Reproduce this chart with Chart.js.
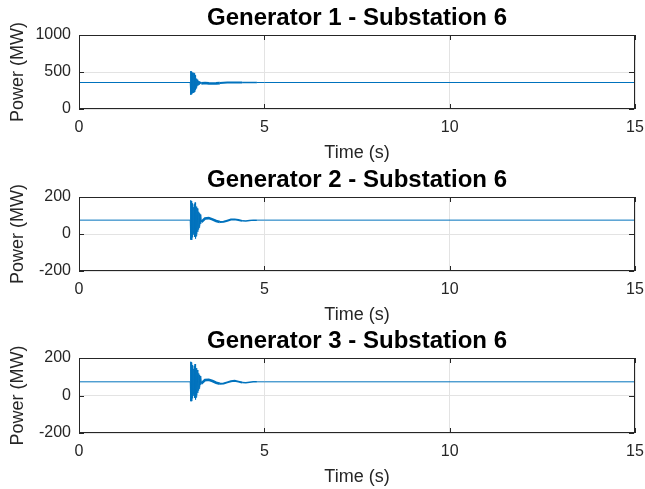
<!DOCTYPE html>
<html>
<head>
<meta charset="utf-8">
<script src="https://cdn.jsdelivr.net/npm/chart.js@4.4.0/dist/chart.umd.min.js"></script>
<style>
  html, body { margin: 0; padding: 0; background: #fff; }
  #wrap { position: relative; width: 645px; height: 489px; }
  .panel { position: absolute; left: 0; width: 645px; }
</style>
</head>
<body>
<div id="wrap">
  <div class="panel" style="top:0;height:165px"><canvas id="gen1"></canvas></div>
  <div class="panel" style="top:162px;height:165px"><canvas id="gen2"></canvas></div>
  <div class="panel" style="top:323px;height:166px"><canvas id="gen3"></canvas></div>
</div>
<script>
// time axis (s) - dense around the fault at 3 s
const timeS = [0,
  3.00, 3.01, 3.02, 3.03, 3.04, 3.05, 3.06, 3.07, 3.08, 3.09,
  3.10, 3.11, 3.12, 3.13, 3.14, 3.15, 3.16, 3.17, 3.18, 3.19,
  3.20, 3.21, 3.22, 3.23, 3.24, 3.25, 3.26, 3.27, 3.28, 3.29, 3.30,
  3.40, 3.50, 3.60, 3.70, 3.80, 3.90, 4.00, 4.10, 4.20, 4.30, 4.40, 4.50, 4.60, 4.70, 4.80,
  5.00, 15];

// power (MW)
const gen1MW = [358,
  358, 512, 195, 505, 200, 490, 215, 470, 240, 490,
  220, 480, 230, 455, 255, 430, 280, 410, 300, 395,
  315, 385, 325, 378, 332, 372, 338, 366, 342, 362, 346,
  352, 346, 344, 346, 350, 354, 357, 358, 358, 358, 358, 358, 358, 358, 358,
  358, 358];

const gen2MW = [75,
  75, 182, -30, 178, -32, 165, -18, 150, -2, 145,
  5, 160, -15, 170, -25, 160, -12, 148, 0, 138,
  12, 128, 25, 120, 35, 112, 45, 105, 55, 98, 65,
  84, 86, 79, 70, 65, 66, 72, 78, 79, 76, 71, 70, 73, 75, 75,
  75, 75];

const gen3MW = [73,
  73, 180, -30, 176, -30, 162, -15, 148, 0, 142,
  8, 158, -12, 168, -22, 158, -10, 146, 2, 136,
  14, 126, 27, 118, 37, 110, 47, 103, 57, 96, 64,
  82, 84, 77, 68, 63, 64, 70, 76, 78, 74, 69, 68, 71, 73, 73,
  73, 73];

const titles = ['Generator 1 - Substation 6', 'Generator 2 - Substation 6', 'Generator 3 - Substation 6'];
const yRanges = [[0, 1000, 500], [-200, 200, 200], [-200, 200, 200]];
const series = [gen1MW, gen2MW, gen3MW];

const FONT = "'Liberation Sans', Arial, Helvetica, sans-serif";
const LINE = '#0072BD';
const AXIS = '#262626';

// MATLAB-style box with inward tick marks
const boxPlugin = {
  id: 'matlabBox',
  afterDatasetsDraw(chart) {
    const {ctx, chartArea: a, scales} = chart;
    ctx.save();
    ctx.strokeStyle = AXIS;
    ctx.lineWidth = 1;
    ctx.strokeRect(Math.round(a.left) + 0.5, Math.round(a.top) + 0.5,
                   Math.round(a.right - a.left) - 1, Math.round(a.bottom - a.top) - 1);
    const len = 5;
    ctx.beginPath();
    scales.x.ticks.forEach(t => {
      const px = Math.round(scales.x.getPixelForValue(t.value)) + 0.5;
      ctx.moveTo(px, a.bottom); ctx.lineTo(px, a.bottom - len);
      ctx.moveTo(px, a.top); ctx.lineTo(px, a.top + len);
    });
    scales.y.ticks.forEach(t => {
      const py = Math.round(scales.y.getPixelForValue(t.value)) + 0.5;
      ctx.moveTo(a.left, py); ctx.lineTo(a.left + len, py);
      ctx.moveTo(a.right - 1, py); ctx.lineTo(a.right - 1 - len, py);
    });
    ctx.stroke();
    ctx.restore();
  }
};

function makeChart(id, idx) {
  const el = document.getElementById(id);
  return new Chart(el, {
    type: 'line',
    data: {
      datasets: [{
        data: timeS.map((t, i) => ({x: t, y: series[idx][i]})),
        borderColor: LINE,
        borderWidth: 1,
        pointRadius: 0,
        tension: 0,
        segment: {
          // residual ripple after the main burst makes the trace look thicker
          borderWidth: c => {
            const x = c.p0.parsed.x;
            if (x >= 3.3 && x < 3.8) return 2.6;
            if (x >= 3.8 && x < 4.4) return 2;
            if (x >= 4.4 && x < 4.8) return 1.5;
            return 1;
          }
        }
      }]
    },
    options: {
      responsive: true,
      maintainAspectRatio: false,
      animation: false,
      layout: { padding: { left: 0, right: 10, top: 0, bottom: 0 } },
      plugins: {
        legend: { display: false },
        tooltip: { enabled: false },
        title: {
          display: true,
          fullSize: false,
          text: titles[idx],
          color: '#000',
          font: { family: FONT, size: 24, weight: 'bold' },
          padding: { top: 4, bottom: 2.2 }
        }
      },
      scales: {
        x: {
          type: 'linear',
          min: 0, max: 15,
          ticks: { stepSize: 5, color: AXIS, padding: 9, font: { family: FONT, size: 16 } },
          grid: { color: '#e3e3e3', drawTicks: false },
          border: { display: false },
          title: { display: true, text: 'Time (s)', color: AXIS,
                   font: { family: FONT, size: 18 }, padding: { top: 0, bottom: 1.2 } },
          afterFit: s => { s.height = 56; s.paddingLeft = 0; s.paddingRight = 0; }
        },
        y: {
          min: yRanges[idx][0], max: yRanges[idx][1],
          ticks: { stepSize: yRanges[idx][2], color: AXIS, padding: 8,
                   font: { family: FONT, size: 16 }, callback: v => String(v) },
          grid: { color: '#e3e3e3', drawTicks: false },
          border: { display: false },
          title: { display: true, text: 'Power (MW)', color: AXIS,
                   font: { family: FONT, size: 18 }, padding: { top: 7, bottom: 0 } },
          afterFit: s => { s.width = 79; s.paddingTop = 0; s.paddingBottom = 0; }
        }
      }
    },
    plugins: [boxPlugin]
  });
}

makeChart('gen1', 0);
makeChart('gen2', 1);
makeChart('gen3', 2);
</script>
</body>
</html>
